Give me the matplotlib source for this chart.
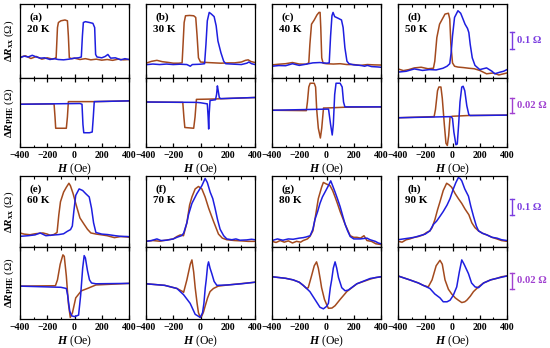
import matplotlib
matplotlib.use("Agg")
import matplotlib.pyplot as plt
from matplotlib.ticker import MultipleLocator, NullLocator
from matplotlib.transforms import blended_transform_factory

plt.rcParams['font.family'] = ['Liberation Serif', 'DejaVu Serif']
plt.rcParams['font.weight'] = 'bold'
plt.rcParams['mathtext.fontset'] = 'custom'
plt.rcParams['mathtext.rm'] = 'Liberation Serif:bold'
plt.rcParams['mathtext.it'] = 'Liberation Serif:bold:italic'
plt.rcParams['mathtext.bf'] = 'Liberation Serif:bold'

BROWN = '#A34A1E'
BLUE = '#1E1EE0'

panel_tags = ['(a)', '(b)', '(c)', '(d)', '(e)', '(f)', '(g)', '(h)']
temps = ['20 K', '30 K', '40 K', '50 K', '60 K', '70 K', '80 K', '90 K']
xticks = [-400, -200, 0, 200, 400]

# ---------------- (a) 20 K ----------------
a_xx_br_H = [-400, -360, -320, -280, -240, -200, -160, -140, -135, -125, -118, -100, -70, -52, -45, -38, -20, 0, 40, 80, 120, 160, 200, 240, 280, 320, 360, 400]
a_xx_br_R = [0.124, 0.132, 0.116, 0.128, 0.112, 0.12, 0.112, 0.118, 0.118, 0.30, 0.33, 0.34, 0.345, 0.34, 0.25, 0.12, 0.115, 0.118, 0.11, 0.115, 0.108, 0.112, 0.106, 0.11, 0.105, 0.112, 0.108, 0.11]
a_xx_bl_H = [-400, -370, -340, -310, -280, -250, -220, -180, -150, -120, -80, -40, 0, 30, 50, 58, 65, 80, 110, 135, 148, 155, 165, 200, 225, 245, 265, 300, 340, 370, 400]
a_xx_bl_R = [0.12, 0.13, 0.125, 0.135, 0.125, 0.118, 0.12, 0.11, 0.115, 0.11, 0.108, 0.112, 0.118, 0.12, 0.125, 0.25, 0.33, 0.335, 0.33, 0.325, 0.3, 0.14, 0.125, 0.12, 0.128, 0.14, 0.118, 0.12, 0.108, 0.115, 0.11]
a_phe_br_H = [-400, -150, -143, -138, -60, -52, -45, 140, 400]
a_phe_br_R = [0.057, 0.0575, 0.04, 0.025, 0.025, 0.04, 0.0605, 0.0605, 0.0615]
a_phe_bl_H = [-400, 40, 55, 62, 68, 110, 130, 138, 145, 400]
a_phe_bl_R = [0.057, 0.058, 0.057, 0.03, 0.019, 0.019, 0.02, 0.04, 0.0605, 0.0615]

# ---------------- (b) 30 K ----------------
b_xx_br_H = [-400, -360, -320, -280, -240, -200, -160, -135, -128, -120, -110, -80, -50, -35, -25, -15, 0, 50, 100, 150, 200, 250, 300, 330, 350, 370, 400]
b_xx_br_R = [0.088, 0.099, 0.105, 0.097, 0.093, 0.088, 0.088, 0.09, 0.2, 0.33, 0.37, 0.372, 0.37, 0.36, 0.25, 0.12, 0.095, 0.092, 0.09, 0.088, 0.09, 0.09, 0.095, 0.105, 0.108, 0.098, 0.092]
b_xx_bl_H = [-400, -350, -300, -250, -200, -150, -100, -75, -60, 0, 30, 40, 50, 64, 80, 100, 115, 128, 150, 170, 185, 250, 300, 340, 355, 375, 400]
b_xx_bl_R = [0.079, 0.083, 0.08, 0.083, 0.08, 0.082, 0.08, 0.07, 0.08, 0.082, 0.085, 0.2, 0.34, 0.39, 0.38, 0.365, 0.31, 0.22, 0.15, 0.1, 0.085, 0.082, 0.08, 0.088, 0.095, 0.085, 0.08]
b_phe_br_H = [-400, -130, -122, -115, -50, -40, -30, 100, 400]
b_phe_br_R = [0.060, 0.0595, 0.04, 0.026, 0.025, 0.04, 0.0635, 0.064, 0.066]
b_phe_bl_H = [-400, -30, 0, 50, 56, 60, 64, 70, 110, 118, 124, 130, 138, 148, 400]
b_phe_bl_R = [0.060, 0.0595, 0.059, 0.0575, 0.04, 0.024, 0.045, 0.062, 0.063, 0.07, 0.0815, 0.075, 0.066, 0.0645, 0.066]

# ---------------- (c) 40 K ----------------
c_xx_br_H = [-400, -350, -300, -250, -200, -150, -130, -122, -110, -90, -70, -55, -47, -42, -35, -25, 0, 50, 100, 150, 200, 250, 300, 350, 400]
c_xx_br_R = [0.078, 0.082, 0.085, 0.092, 0.083, 0.082, 0.09, 0.2, 0.32, 0.345, 0.375, 0.39, 0.39, 0.3, 0.12, 0.088, 0.085, 0.083, 0.085, 0.08, 0.08, 0.075, 0.08, 0.078, 0.077]
c_xx_bl_H = [-400, -350, -300, -250, -200, -150, -100, -50, 0, 20, 30, 40, 48, 60, 86, 110, 122, 135, 150, 165, 200, 250, 280, 300, 330, 370, 400]
c_xx_bl_R = [0.07, 0.074, 0.073, 0.085, 0.075, 0.082, 0.09, 0.092, 0.088, 0.09, 0.25, 0.37, 0.39, 0.365, 0.355, 0.345, 0.3, 0.18, 0.1, 0.085, 0.078, 0.075, 0.07, 0.075, 0.068, 0.066, 0.064]
c_phe_br_H = [-400, -148, -140, -130, -120, -90, -80, -72, -60, -45, -35, -22, 0, 130, 400]
c_phe_br_R = [0.049, 0.0485, 0.06, 0.08, 0.085, 0.085, 0.08, 0.05, 0.025, 0.012, 0.025, 0.052, 0.052, 0.053, 0.0535]
c_phe_bl_H = [-400, 0, 15, 30, 42, 50, 60, 70, 100, 115, 125, 135, 400]
c_phe_bl_R = [0.049, 0.0505, 0.0505, 0.03, 0.016, 0.03, 0.07, 0.085, 0.085, 0.08, 0.06, 0.0535, 0.0535]

# ---------------- (d) 50 K ----------------
d_xx_br_H = [-400, -360, -320, -280, -230, -180, -140, -130, -115, -95, -75, -55, -30, -20, -12, 0, 15, 40, 80, 120, 160, 200, 250, 300, 340, 375, 400]
d_xx_br_R = [0.054, 0.044, 0.05, 0.06, 0.064, 0.055, 0.058, 0.1, 0.24, 0.32, 0.35, 0.38, 0.385, 0.35, 0.2, 0.09, 0.07, 0.065, 0.062, 0.058, 0.055, 0.045, 0.025, 0.03, 0.018, 0.025, 0.03]
d_xx_bl_H = [-400, -340, -280, -220, -170, -120, -70, -40, -20, -10, 0, 15, 40, 60, 75, 92, 110, 120, 130, 145, 165, 200, 250, 290, 310, 350, 375, 400]
d_xx_bl_R = [0.035, 0.04, 0.054, 0.045, 0.05, 0.048, 0.058, 0.07, 0.085, 0.15, 0.25, 0.36, 0.4, 0.385, 0.355, 0.32, 0.295, 0.27, 0.2, 0.12, 0.075, 0.05, 0.06, 0.04, 0.025, 0.035, 0.04, 0.05]
d_phe_br_H = [-400, -135, -125, -110, -100, -85, -75, -60, -48, -38, -28, -18, -10, 0, 120, 400]
d_phe_br_R = [0.039, 0.0405, 0.05, 0.075, 0.08, 0.08, 0.065, 0.03, 0.005, 0.002, 0.015, 0.04, 0.0405, 0.041, 0.042, 0.0425]
d_phe_bl_H = [-400, -10, 0, 10, 25, 35, 45, 55, 68, 78, 90, 105, 120, 130, 400]
d_phe_bl_R = [0.039, 0.0405, 0.038, 0.02, 0.003, 0.004, 0.03, 0.06, 0.08, 0.081, 0.075, 0.055, 0.043, 0.042, 0.0425]

# ---------------- (e) 60 K ----------------
e_xx_br_H = [-400, -370, -326, -290, -232, -200, -177, -150, -128, -115, -103, -80, -60, -41, -30, -10, 9, 40, 71, 95, 120, 160, 194, 240, 293, 340, 385, 400]
e_xx_br_R = [0.087, 0.08, 0.076, 0.082, 0.087, 0.08, 0.072, 0.078, 0.09, 0.2, 0.28, 0.34, 0.37, 0.395, 0.38, 0.33, 0.27, 0.18, 0.14, 0.11, 0.087, 0.08, 0.076, 0.07, 0.058, 0.065, 0.062, 0.06]
e_xx_bl_H = [-400, -340, -290, -252, -210, -160, -115, -80, -53, -29, -16, -5, 9, 34, 60, 83, 108, 125, 140, 157, 200, 244, 300, 340, 385, 400]
e_xx_bl_R = [0.066, 0.07, 0.075, 0.087, 0.07, 0.074, 0.077, 0.082, 0.097, 0.108, 0.13, 0.22, 0.32, 0.36, 0.35, 0.33, 0.31, 0.24, 0.15, 0.09, 0.08, 0.077, 0.07, 0.066, 0.065, 0.064]
e_phe_br_H = [-400, -140, -125, -105, -85, -75, -60, -45, -31, -15, 9, 50, 95, 157, 400]
e_phe_br_R = [0.042, 0.0425, 0.05, 0.07, 0.082, 0.08, 0.055, 0.02, 0.002, 0.008, 0.027, 0.036, 0.039, 0.0435, 0.0455]
e_phe_bl_H = [-400, -100, -60, -50, -35, -20, 0, 30, 45, 60, 71, 80, 95, 110, 125, 157, 400]
e_phe_bl_R = [0.042, 0.0405, 0.039, 0.03, 0.01, 0.004, 0.003, 0.005, 0.03, 0.065, 0.081, 0.078, 0.062, 0.05, 0.046, 0.045, 0.0455]

# ---------------- (f) 70 K ----------------
f_xx_br_H = [-400, -350, -300, -234, -200, -173, -148, -125, -100, -80, -63, -39, -15, 10, 34, 60, 95, 132, 160, 193, 250, 300, 350, 400]
f_xx_br_R = [0.035, 0.04, 0.036, 0.045, 0.05, 0.065, 0.075, 0.07, 0.15, 0.26, 0.31, 0.36, 0.375, 0.36, 0.31, 0.24, 0.16, 0.08, 0.055, 0.045, 0.04, 0.038, 0.035, 0.035]
f_xx_bl_H = [-400, -360, -320, -290, -250, -200, -173, -140, -124, -100, -88, -63, -27, 10, 34, 50, 71, 90, 107, 125, 144, 170, 193, 230, 260, 290, 340, 375, 400]
f_xx_bl_R = [0.035, 0.04, 0.05, 0.04, 0.042, 0.05, 0.06, 0.07, 0.085, 0.15, 0.2, 0.27, 0.33, 0.38, 0.425, 0.4, 0.34, 0.3, 0.24, 0.17, 0.11, 0.07, 0.05, 0.045, 0.05, 0.042, 0.044, 0.048, 0.045]
f_phe_br_H = [-400, -263, -173, -130, -124, -100, -75, -63, -50, -39, -25, -15, -2, 10, 22, 35, 52, 70, 95, 130, 200, 400]
f_phe_br_R = [0.045, 0.043, 0.039, 0.035, 0.034, 0.05, 0.07, 0.0755, 0.06, 0.04, 0.02, 0.008, 0.002, 0.004, 0.009, 0.017, 0.027, 0.035, 0.039, 0.042, 0.0435, 0.047]
f_phe_bl_H = [-400, -263, -173, -124, -76, -39, -2, 15, 25, 35, 42, 52, 59, 70, 83, 100, 120, 200, 300, 400]
f_phe_bl_R = [0.045, 0.043, 0.039, 0.031, 0.02, 0.006, 0.002, 0.008, 0.02, 0.04, 0.05, 0.068, 0.073, 0.065, 0.058, 0.048, 0.043, 0.0435, 0.045, 0.047]

# ---------------- (g) 80 K ----------------
g_xx_br_H = [-400, -370, -340, -310, -280, -250, -220, -190, -171, -140, -122, -100, -85, -60, -36, -23, 0, 26, 45, 63, 80, 100, 137, 174, 200, 223, 250, 275, 297, 330, 362, 400]
g_xx_br_R = [0.035, 0.028, 0.04, 0.03, 0.038, 0.025, 0.035, 0.03, 0.04, 0.05, 0.065, 0.1, 0.17, 0.3, 0.37, 0.4, 0.39, 0.38, 0.35, 0.31, 0.27, 0.22, 0.14, 0.07, 0.06, 0.06, 0.055, 0.07, 0.04, 0.035, 0.02, 0.015]
g_xx_bl_H = [-400, -360, -320, -280, -245, -200, -171, -150, -120, -100, -85, -65, -48, -30, -11, 14, 31, 45, 63, 80, 100, 120, 137, 155, 174, 200, 248, 297, 320, 358, 380, 400]
g_xx_bl_R = [0.04, 0.05, 0.042, 0.05, 0.048, 0.055, 0.058, 0.062, 0.07, 0.11, 0.17, 0.22, 0.27, 0.31, 0.34, 0.38, 0.41, 0.38, 0.34, 0.3, 0.25, 0.19, 0.14, 0.1, 0.065, 0.05, 0.05, 0.055, 0.045, 0.035, 0.025, 0.02]
g_phe_br_H = [-400, -300, -245, -200, -171, -146, -134, -110, -90, -73, -60, -45, -36, -15, 2, 14, 40, 63, 100, 149, 223, 321, 362, 400]
g_phe_br_R = [0.054, 0.052, 0.05, 0.047, 0.043, 0.039, 0.04, 0.055, 0.068, 0.073, 0.065, 0.05, 0.04, 0.025, 0.018, 0.0137, 0.014, 0.017, 0.025, 0.035, 0.045, 0.051, 0.053, 0.054]
g_phe_bl_H = [-400, -300, -245, -200, -171, -146, -122, -85, -48, -23, 0, 14, 28, 38, 50, 63, 75, 88, 112, 137, 160, 223, 321, 400]
g_phe_bl_R = [0.054, 0.052, 0.05, 0.047, 0.043, 0.039, 0.035, 0.025, 0.015, 0.013, 0.016, 0.02, 0.04, 0.05, 0.065, 0.073, 0.065, 0.053, 0.04, 0.036, 0.037, 0.045, 0.0518, 0.054]

# ---------------- (h) 90 K ----------------
h_xx_br_H = [-400, -370, -340, -314, -280, -250, -215, -190, -166, -150, -129, -110, -92, -68, -43, -25, -6, 20, 43, 68, 92, 120, 142, 165, 191, 220, 252, 290, 326, 360, 400]
h_xx_br_R = [0.035, 0.03, 0.045, 0.05, 0.06, 0.065, 0.075, 0.09, 0.1, 0.12, 0.17, 0.23, 0.28, 0.35, 0.395, 0.385, 0.37, 0.33, 0.3, 0.27, 0.235, 0.2, 0.15, 0.12, 0.1, 0.085, 0.075, 0.06, 0.05, 0.04, 0.035]
h_xx_bl_H = [-400, -360, -320, -280, -240, -200, -166, -140, -117, -92, -68, -40, -18, 6, 25, 43, 55, 68, 90, 117, 135, 154, 175, 191, 220, 252, 290, 326, 360, 400]
h_xx_bl_R = [0.045, 0.05, 0.055, 0.06, 0.07, 0.08, 0.1, 0.14, 0.16, 0.19, 0.22, 0.26, 0.3, 0.36, 0.4, 0.43, 0.425, 0.41, 0.36, 0.315, 0.25, 0.19, 0.13, 0.1, 0.085, 0.075, 0.06, 0.055, 0.045, 0.04]
h_phe_br_H = [-400, -314, -250, -215, -178, -150, -120, -92, -75, -55, -30, -6, 20, 43, 68, 90, 105, 130, 154, 190, 228, 280, 326, 360, 400]
h_phe_br_R = [0.055, 0.05, 0.046, 0.043, 0.041, 0.05, 0.068, 0.075, 0.07, 0.05, 0.038, 0.032, 0.027, 0.024, 0.021, 0.022, 0.024, 0.029, 0.035, 0.041, 0.046, 0.05, 0.052, 0.054, 0.055]
h_phe_bl_H = [-400, -314, -250, -215, -166, -130, -92, -68, -40, -18, 5, 31, 50, 68, 85, 117, 140, 166, 191, 228, 280, 326, 400]
h_phe_bl_R = [0.055, 0.05, 0.046, 0.043, 0.039, 0.032, 0.027, 0.022, 0.022, 0.024, 0.03, 0.041, 0.06, 0.0755, 0.07, 0.058, 0.046, 0.041, 0.04, 0.046, 0.05, 0.052, 0.055]

xx_curves = [
    ((a_xx_br_H, a_xx_br_R), (a_xx_bl_H, a_xx_bl_R)),
    ((b_xx_br_H, b_xx_br_R), (b_xx_bl_H, b_xx_bl_R)),
    ((c_xx_br_H, c_xx_br_R), (c_xx_bl_H, c_xx_bl_R)),
    ((d_xx_br_H, d_xx_br_R), (d_xx_bl_H, d_xx_bl_R)),
    ((e_xx_br_H, e_xx_br_R), (e_xx_bl_H, e_xx_bl_R)),
    ((f_xx_br_H, f_xx_br_R), (f_xx_bl_H, f_xx_bl_R)),
    ((g_xx_br_H, g_xx_br_R), (g_xx_bl_H, g_xx_bl_R)),
    ((h_xx_br_H, h_xx_br_R), (h_xx_bl_H, h_xx_bl_R)),
]
phe_curves = [
    ((a_phe_br_H, a_phe_br_R), (a_phe_bl_H, a_phe_bl_R)),
    ((b_phe_br_H, b_phe_br_R), (b_phe_bl_H, b_phe_bl_R)),
    ((c_phe_br_H, c_phe_br_R), (c_phe_bl_H, c_phe_bl_R)),
    ((d_phe_br_H, d_phe_br_R), (d_phe_bl_H, d_phe_bl_R)),
    ((e_phe_br_H, e_phe_br_R), (e_phe_bl_H, e_phe_bl_R)),
    ((f_phe_br_H, f_phe_br_R), (f_phe_bl_H, f_phe_bl_R)),
    ((g_phe_br_H, g_phe_br_R), (g_phe_bl_H, g_phe_bl_R)),
    ((h_phe_br_H, h_phe_br_R), (h_phe_bl_H, h_phe_bl_R)),
]

XX_LIM = (0, 0.44)
PHE_LIM = (0, 0.092)

W, HH = 550, 348
fig = plt.figure(figsize=(W / 100, HH / 100), dpi=100)

lefts_px = [20, 146, 272, 398]
width_px = 109
rows_px = [  # (upper top, divider, lower bottom)
    (4, 78, 147),
    (176, 247, 319),
]

def style(ax, is_lower):
    ax.set_xlim(-400, 400)
    ax.xaxis.set_major_locator(MultipleLocator(200))
    ax.xaxis.set_minor_locator(MultipleLocator(100))
    ax.yaxis.set_major_locator(NullLocator())
    ax.yaxis.set_minor_locator(NullLocator())
    ax.tick_params(axis='x', which='both', direction='in', top=True, bottom=True)
    ax.tick_params(axis='x', which='major', length=3, width=0.9, labelsize=7.1, pad=3)
    ax.tick_params(axis='x', which='minor', length=1.8, width=0.8)
    for s in ax.spines.values():
        s.set_linewidth(0.9)
    if not is_lower:
        ax.tick_params(axis='x', labelbottom=False)

upper_axes = []
lower_axes = []
for i in range(8):
    r, c = divmod(i, 4)
    top, mid, bot = rows_px[r]
    left = lefts_px[c] / W
    w = width_px / W
    axu = fig.add_axes([left, 1 - mid / HH, w, (mid - top) / HH])
    axl = fig.add_axes([left, 1 - bot / HH, w, (bot - mid) / HH])
    style(axu, False)
    style(axl, True)
    (brH, brR), (blH, blR) = xx_curves[i]
    axu.plot(brH, brR, color=BROWN, lw=1.1)
    axu.plot(blH, blR, color=BLUE, lw=1.1)
    (brH, brR), (blH, blR) = phe_curves[i]
    axl.plot(brH, brR, color=BROWN, lw=1.1)
    axl.plot(blH, blR, color=BLUE, lw=1.1)
    axu.set_ylim(*XX_LIM)
    axl.set_ylim(*PHE_LIM)
    axl.set_xticks(xticks)
    axl.set_xticklabels(['\u2212400', '\u2212200', '0', '200', '400'])
    axl.set_xlabel(r'$H$ (Oe)', fontsize=8.5, labelpad=1)
    axu.text(0.085, 0.815, panel_tags[i], transform=axu.transAxes, fontsize=8,
             fontweight='bold', va='center', ha='left')
    axu.text(0.065, 0.655, temps[i], transform=axu.transAxes, fontsize=8,
             fontweight='bold', va='center', ha='left')
    if c == 0:
        axu.set_ylabel(r'$\Delta R_{\rm xx}$ (Ω)', fontsize=8, labelpad=3)
        axl.set_ylabel(r'$\Delta R_{\rm PHE}$ (Ω)', fontsize=8, labelpad=3)
    upper_axes.append(axu)
    lower_axes.append(axl)

# scale bars
def scale_bar(ax, y0, length, text, color):
    tr = blended_transform_factory(ax.transAxes, ax.transData)
    xb = 1.046
    cap = 0.022
    ax.plot([xb, xb], [y0, y0 + length], color=color, lw=1.0, transform=tr, clip_on=False)
    ax.plot([xb - cap, xb + cap], [y0, y0], color=color, lw=1.0, transform=tr, clip_on=False)
    ax.plot([xb - cap, xb + cap], [y0 + length, y0 + length], color=color, lw=1.0, transform=tr, clip_on=False)
    ax.text(xb + 0.05, y0 + length / 2, text, color=color, transform=tr, fontsize=7.6,
            fontweight='bold', va='center', ha='left')

scale_bar(upper_axes[3], 0.175, 0.1, '0.1 Ω', '#7A3CE0')
scale_bar(lower_axes[3], 0.0447, 0.02, '0.02 Ω', '#A040D0')
scale_bar(upper_axes[7], 0.197, 0.1, '0.1 Ω', '#7A3CE0')
scale_bar(lower_axes[7], 0.0387, 0.02, '0.02 Ω', '#A040D0')

fig.savefig('out.png', dpi=100)
